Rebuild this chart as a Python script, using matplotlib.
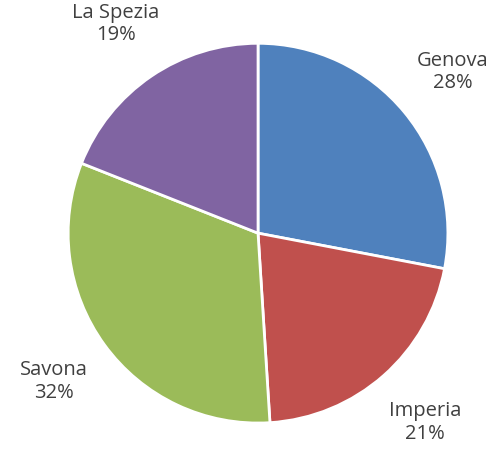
import matplotlib.pyplot as plt

provinces = ["Genova", "Imperia", "Savona", "La Spezia"]
shares = [28, 21, 32, 19]
colors = ["#4F81BD", "#C0504D", "#9BBB59", "#8064A2"]

plt.rcParams['font.family'] = ['Open Sans', 'DejaVu Sans']

fig = plt.figure(figsize=(5.02, 4.51), dpi=100)
ax = fig.add_axes([0.514 - 0.3785, 0.483 - 0.421, 0.757, 0.842])

labels = [f"{p}\n{s}%" for p, s in zip(provinces, shares)]
wedges, texts = ax.pie(shares, labels=labels, colors=colors, startangle=90,
                       counterclock=False, labeldistance=1.33,
                       wedgeprops=dict(edgecolor="white", linewidth=2),
                       textprops=dict(fontsize=14.5, color="#404040"))
for t in texts:
    t.set_horizontalalignment("center")
    t.set_verticalalignment("center")
    t.set_linespacing(1.15)
ax.set_xlim(-1, 1)
ax.set_ylim(-1, 1)
ax.set_aspect("equal")

fig.savefig("out.png", dpi=100)
